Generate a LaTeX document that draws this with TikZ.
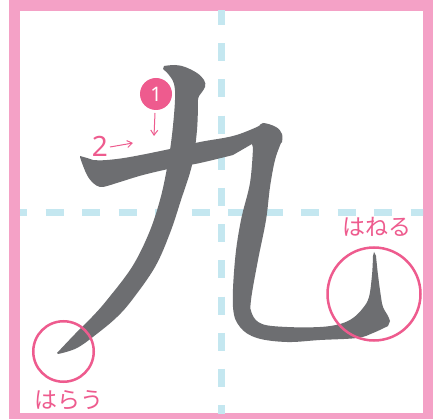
\documentclass[tikz,border=0pt]{standalone}
\usepackage{fontspec}
\newfontfamily\jp{Noto Sans CJK JP}
\newfontfamily\numfont{Noto Sans}
\usetikzlibrary{arrows.meta}
\definecolor{framepink}{HTML}{F4A1C6}
\definecolor{guide}{HTML}{C4E7F0}
\definecolor{ink}{HTML}{6D6E71}
\definecolor{accent}{HTML}{EE5B8E}
\tikzset{
  guideline/.style={guide, line width=7pt},
  inkstroke/.style={fill=ink, draw=none},
  ring/.style={circle, draw=accent, line width=2.5pt, inner sep=0pt},
  label/.style={text=accent, font=\jp\fontsize{23}{23}\selectfont, inner sep=0pt},
  pointer/.style={accent, line width=1pt, -{Straight Barb[length=5pt,width=7pt]}},
}
\begin{document}
\begin{tikzpicture}[x=1pt,y=-1pt]
\useasboundingbox (0,0) rectangle (439,419);
\fill[white] (0,0) rectangle (439,419);
\fill[framepink] (9,0) rectangle (433,419);
\fill[white] (20,11) rectangle (423,413);
\begin{scope}
  \clip (20,11) rectangle (423,413);
  \draw[guideline, dash pattern=on 18pt off 18.2pt] (221.5,7) -- (221.5,419);
  \draw[guideline, dash pattern=on 18pt off 18.5pt] (9,213) -- (433,213);
\end{scope}
% stroke 1
\fill[inkstroke] plot[smooth, tension=0.6] coordinates {(164,66) (175,65) (185,67) (197,73) (204,80) (205,87) (199,96)}
  -- plot[smooth, tension=0.6] coordinates {(198,99) (197,130) (192,165) (181,200) (170,233) (155,267) (132,300) (117,317) (98,333) (77,348) (58,354)}
  -- plot[smooth, tension=0.6] coordinates {(57,353) (75,334) (92,317) (107,300) (132,267) (149,233) (160,200) (167,168) (172,135) (175,100) (174,84) (169,75) (163,69)}
  -- cycle;
% stroke 2
\fill[inkstroke] plot[smooth, tension=0.6] coordinates {(80,156) (87,158) (93,160) (107,160) (130,157) (170,149) (200,142) (233,136) (257,127) (263,123) (276,127) (282,134) (282,142)}
  -- plot[smooth, tension=0.6] coordinates {(281,143) (275,160) (270,187) (266,220) (258,260) (251,300) (252,314) (262,324) (287,327) (320,327) (340,324) (353,318) (363,308) (369,297) (372,275) (373,256)}
  -- (374,252) --
  plot[smooth, tension=0.6] coordinates {(376,256) (378,275) (381,297) (383,307) (388,316) (390,321)}
  -- plot[smooth, tension=0.6] coordinates {(388,326) (373,333) (357,338) (320,340) (287,342) (257,338) (240,327) (233,307) (235,260) (241,220) (250,183) (253,148)}
  -- (252,144) --
  plot[smooth, tension=0.6] coordinates {(233,155) (200,163) (173,168) (143,175) (120,182) (107,186) (100,187) (93,183) (87,175) (82,163) (80,157)}
  -- cycle;
% annotations
\node[circle, fill=accent, minimum size=32pt, inner sep=0pt, text=white, font=\numfont\fontsize{20}{20}\selectfont] (n1) at (156,94) {1};
\coordinate (a1s) at (155,113);
\coordinate (a1e) at (154,136);
\draw[pointer] (a1s) -- (a1e);
\node[text=accent, font=\numfont\fontsize{28}{28}\selectfont, inner sep=0pt] (n2) at (100,146) {2};
\coordinate (a2s) at (110,147);
\coordinate (a2e) at (133,143);
\draw[pointer] (a2s) -- (a2e);
\node[ring, minimum size=93pt] (hane) at (374,294) {};
\node[ring, minimum size=60.5pt] (harai) at (63.5,351.5) {};
\node[label] (hanetext) at (377,227) {はねる};
\node[label] (haraitext) at (69,400) {はらう};
\end{tikzpicture}
\end{document}
